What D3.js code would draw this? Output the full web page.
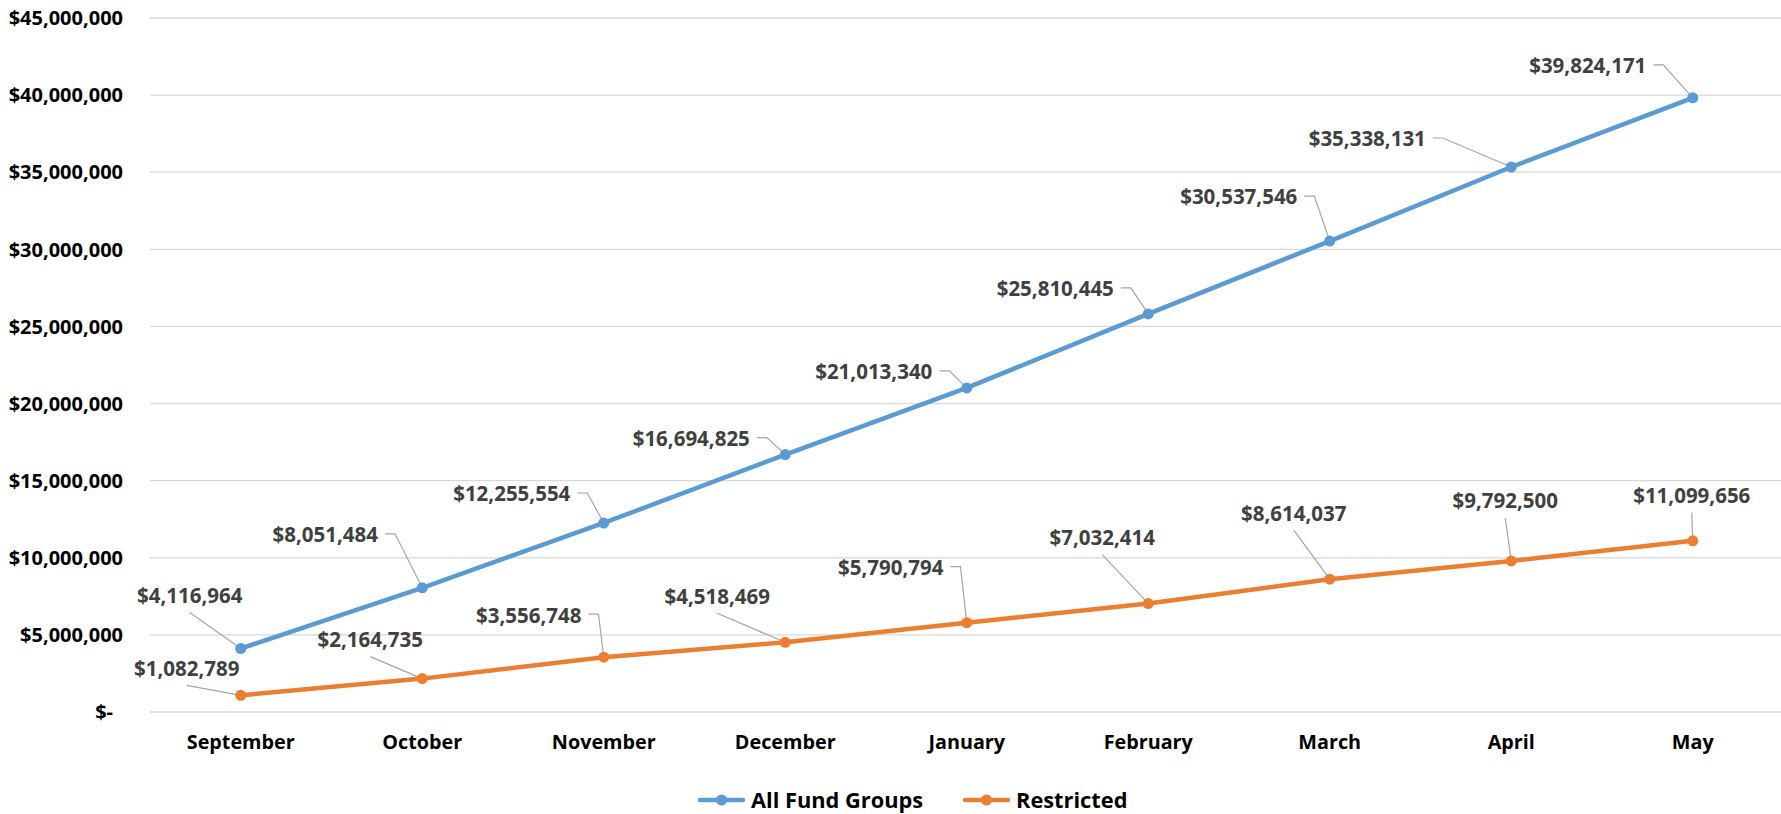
<!DOCTYPE html>
<html>
<head>
<meta charset="utf-8">
<script src="https://cdn.jsdelivr.net/npm/d3@7"></script>
<style>
  html, body { margin: 0; padding: 0; background: #fff; }
  svg { display: block; font-family: "Open Sans", "Noto Sans", sans-serif; }
</style>
</head>
<body>
<svg id="chart" width="1781" height="814"></svg>
<script>
// ---- data ----
const categories = ["September","October","November","December","January","February","March","April","May"];
const allFundGroups = [4116964, 8051484, 12255554, 16694825, 21013340, 25810445, 30537546, 35338131, 39824171];
const restricted = [1082789, 2164735, 3556748, 4518469, 5790794, 7032414, 8614037, 9792500, 11099656];
const yTicks = [0, 5000000, 10000000, 15000000, 20000000, 25000000, 30000000, 35000000, 40000000, 45000000];
const seriesNames = ["All Fund Groups", "Restricted"];

// ---- label layout (pixel offsets of label centre from its point; leader style) ----
const blueLabelLayout = [
  [-51,-53,"b"],[-97,-53,"h"],[-92,-29,"h"],[-94,-16,"h"],[-93,-16,"h"],
  [-93,-25,"h"],[-91,-44,"h"],[-144,-28,"h"],[-105,-32,"h"]
];
const orangeLabelLayout = [
  [-54,-27,"b"],[-52,-39,"b"],[-75,-42,"h"],[-68,-46,"b"],[-76,-55,"h"],
  [-46,-66,"b"],[-36,-66,"b"],[-6,-60,"b"],[-1,-45,"b"]
];

const colors = ["#5B9BD5", "#ED7D31"];
const svg = d3.select("#chart");

const x = d3.scalePoint().domain(categories).range([150, 1783.5]).padding(0.5);
const y = d3.scaleLinear().domain([0, 45000000]).range([712, 18]);

// gridlines
svg.append("g").selectAll("line").data(yTicks).join("line")
  .attr("x1", 150).attr("x2", 1781)
  .attr("y1", d => y(d)).attr("y2", d => y(d))
  .attr("stroke", "#D9D9D9").attr("stroke-width", 1.3);

// y axis labels
const fmt = d3.format(",");
svg.append("g").selectAll("text").data(yTicks).join("text")
  .attr("x", d => d === 0 ? 113 : 123)
  .attr("y", d => y(d))
  .attr("dy", "0.36em")
  .attr("text-anchor", "end")
  .attr("font-size", 20).attr("font-weight", 700).attr("fill", "#000")
  .text(d => d === 0 ? "$-" : "$" + fmt(d));

// x axis labels
svg.append("g").selectAll("text").data(categories).join("text")
  .attr("x", d => x(d)).attr("y", 742).attr("dy", "0.36em")
  .attr("text-anchor", "middle")
  .attr("font-size", 19.8).attr("font-weight", 700).attr("fill", "#000")
  .text(d => d);

const allSeries = [allFundGroups, restricted];
const layouts = [blueLabelLayout, orangeLabelLayout];
const line = d3.line().x((d, i) => x(categories[i])).y(d => y(d));

// leader lines + labels
const labelG = svg.append("g");
allSeries.forEach((vals, si) => {
  vals.forEach((v, i) => {
    const px = x(categories[i]), py = y(v);
    const [dx, dy, kind] = layouts[si][i];
    const cx = px + dx, cy = py + dy;
    const t = labelG.append("text")
      .attr("x", cx).attr("y", cy).attr("dy", "0.36em")
      .attr("text-anchor", "middle")
      .attr("font-size", 20.5).attr("font-weight", 700).attr("fill", "#404040")
      .text("$" + fmt(v));
    const w = t.node().getComputedTextLength();
    let pts;
    if (kind === "h") {
      const sx = cx + w / 2 + 7;
      pts = [[sx, cy - 1], [sx + 10, cy - 1], [px, py]];
    } else {
      pts = [[cx, cy + 17], [px, py]];
    }
    labelG.append("path")
      .attr("d", d3.line()(pts))
      .attr("fill", "none").attr("stroke", "#A6A6A6").attr("stroke-width", 1.2);
  });
});

// series lines and markers
allSeries.forEach((vals, si) => {
  svg.append("path").datum(vals)
    .attr("d", line)
    .attr("fill", "none").attr("stroke", colors[si])
    .attr("stroke-width", 4.5).attr("stroke-linejoin", "round").attr("stroke-linecap", "round");
  svg.append("g").selectAll("circle").data(vals).join("circle")
    .attr("cx", (d, i) => x(categories[i])).attr("cy", d => y(d))
    .attr("r", 5.5).attr("fill", colors[si]);
});

// legend
const legendItems = [{name: seriesNames[0], x0: 700}, {name: seriesNames[1], x0: 965}];
const lg = svg.append("g");
legendItems.forEach((it, i) => {
  lg.append("line").attr("x1", it.x0).attr("x2", it.x0 + 43)
    .attr("y1", 800).attr("y2", 800)
    .attr("stroke", colors[i]).attr("stroke-width", 4.5).attr("stroke-linecap", "round");
  lg.append("circle").attr("cx", it.x0 + 21.5).attr("cy", 800).attr("r", 5.5).attr("fill", colors[i]);
  lg.append("text").attr("x", it.x0 + 51).attr("y", 800).attr("dy", "0.36em")
    .attr("font-size", 21.8).attr("font-weight", 700).attr("fill", "#000")
    .text(it.name);
});
</script>
</body>
</html>
